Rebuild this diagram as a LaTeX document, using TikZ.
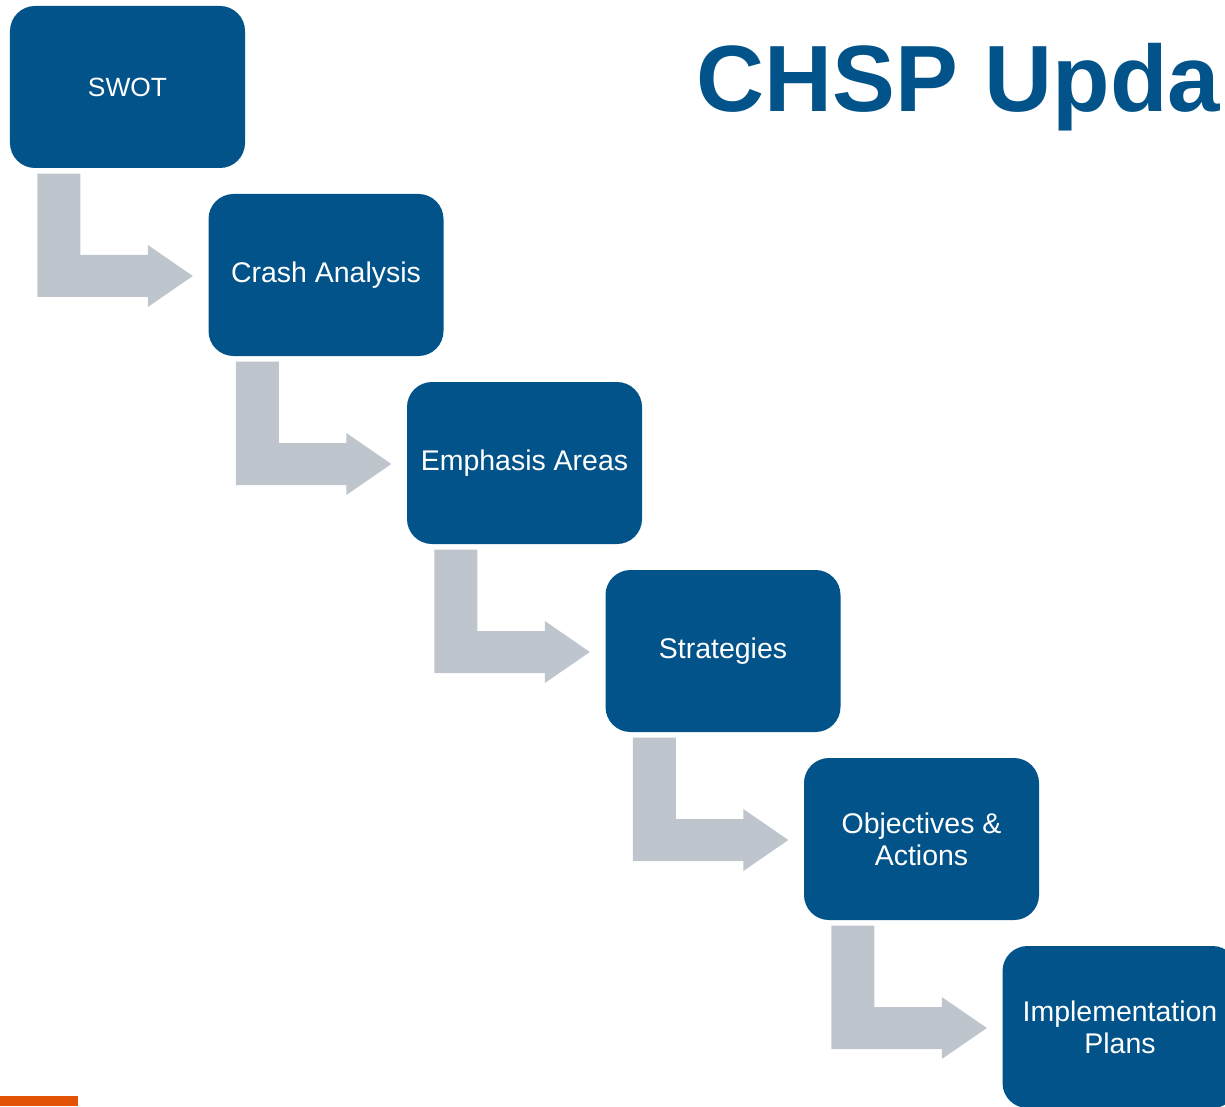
\documentclass[tikz,border=0pt]{standalone}
\usepackage{fontspec}
\setmainfont{Liberation Sans}
\usepackage{tikz}
\usetikzlibrary{calc,positioning}

\definecolor{chspblue}{RGB}{2,83,137}
\definecolor{chspgray}{RGB}{190,197,205}
\definecolor{chsporange}{RGB}{227,82,5}

\tikzset{
	stepbox/.style={fill=chspblue, text=white, rounded corners=0.25cm, minimum width=2.35cm, minimum height=1.62cm, align=center, inner sep=0pt, font=\fontsize{8.1}{9.1}\selectfont},
	bentarrow/.style={fill=chspgray}
}

\begin{document}
\begin{tikzpicture}
					\useasboundingbox (0,0) rectangle (12.25,-11.06);
					\clip (0,0) rectangle (12.25,-11.06);
					
					%title
					\node [anchor=base west, inner sep=0pt, text=chspblue, font=\fontsize{26.8}{30}\selectfont\bfseries] (title) at (6.96,-1.115) {CHSP Upda};
					
					%steps
					\node [stepbox, font=\fontsize{7.5}{9}\selectfont] (swot) at (1.275,-0.87) {SWOT};
					\node [stepbox] (crash) at (3.26,-2.75) {Crash Analysis};
					\node [stepbox] (emph) at (5.245,-4.63) {Emphasis Areas};
					\node [stepbox] (strat) at (7.23,-6.51) {Strategies};
					\node [stepbox] (obj) at (9.215,-8.39) {Objectives \&\\Actions};
					\node [stepbox] (impl) at (11.2,-10.27) {Implementation\\Plans};
					
					%arrows
					\foreach \a/\b in {swot/crash,crash/emph,emph/strat,strat/obj,obj/impl}{
						\fill [bentarrow] ($(\a.south west)+(0.28,-0.05)$) -- ++(0.43,0)
							|- ($(\b.west)+(-0.60,0.20)$) -- ++(0,0.10)
							-- ($(\b.west)+(-0.15,-0.01)$) -- ++(-0.45,-0.31) -- ++(0,0.10)
							-| ($(\a.south west)+(0.28,-0.05)$) -- cycle;
					}
					
					%bar
					\fill [chsporange] (0,-10.96) rectangle (0.78,-11.06);
				\end{tikzpicture}
\end{document}
